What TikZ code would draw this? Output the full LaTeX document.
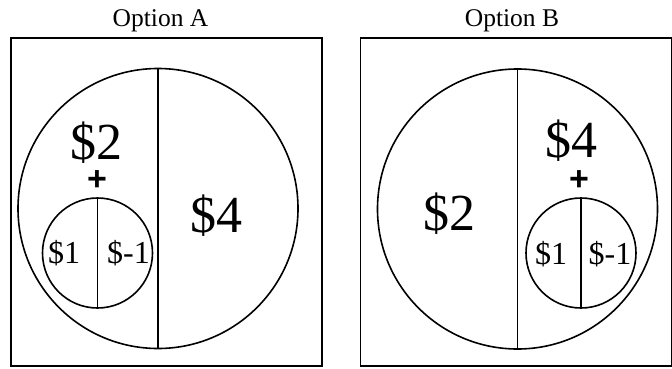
\documentclass[tikz,border=0pt]{standalone}
\usepackage{fontspec}
\setmainfont{Liberation Serif}
\newfontfamily\plusfont{Liberation Sans}
\begin{document}
\begin{tikzpicture}[x=1pt,y=-1pt,line width=1.6pt,
  panel/.style={draw, rectangle, minimum width=311pt, minimum height=328pt, inner sep=0pt},
  bigc/.style={draw, circle, minimum size=280pt, inner sep=0pt},
  smallc/.style={draw, circle, minimum size=110pt, inner sep=0pt},
  title/.style={inner sep=0pt, font=\fontsize{25.5}{30}\selectfont},
  big/.style={anchor=base, inner sep=0pt, font=\fontsize{52}{60}\selectfont},
  mid/.style={anchor=base, inner sep=0pt, font=\fontsize{32}{38}\selectfont},
  plus/.style={inner sep=0pt, font=\fontsize{34}{40}\selectfont\plusfont\bfseries}
]
\useasboundingbox (0,0) rectangle (672,369);
% Option A
\node[title] (tA) at (160.5,21) {Option A};
\node[panel] (boxA) at (166.5,202) {};
\node[bigc] (cA) at (158,208.5) {};
\draw (cA.north) -- (cA.south);
\node[smallc] (sA) at (97.5,253) {};
\draw (sA.north) -- (sA.south);
\node[big] (a2) at (96,159) {\$2};
\node[plus] (aplus) at (97,181) {+};
\node[big] (a4) at (216,232) {\$4};
\node[mid] (a1) at (64,263) {\$1};
\node[mid] (am1) at (128.5,263) {\$-1};
% Option B
\node[title] (tB) at (512,21) {Option B};
\node[panel] (boxB) at (516,202) {};
\node[bigc] (cB) at (517.5,209) {};
\draw (cB.north) -- (cB.south);
\node[smallc] (sB) at (581,253) {};
\draw (sB.north) -- (sB.south);
\node[big] (b4) at (571,157) {\$4};
\node[plus] (bplus) at (579,181) {+};
\node[big] (b2) at (449,230) {\$2};
\node[mid] (b1) at (551,264) {\$1};
\node[mid] (bm1) at (610,264) {\$-1};
\end{tikzpicture}
\end{document}
